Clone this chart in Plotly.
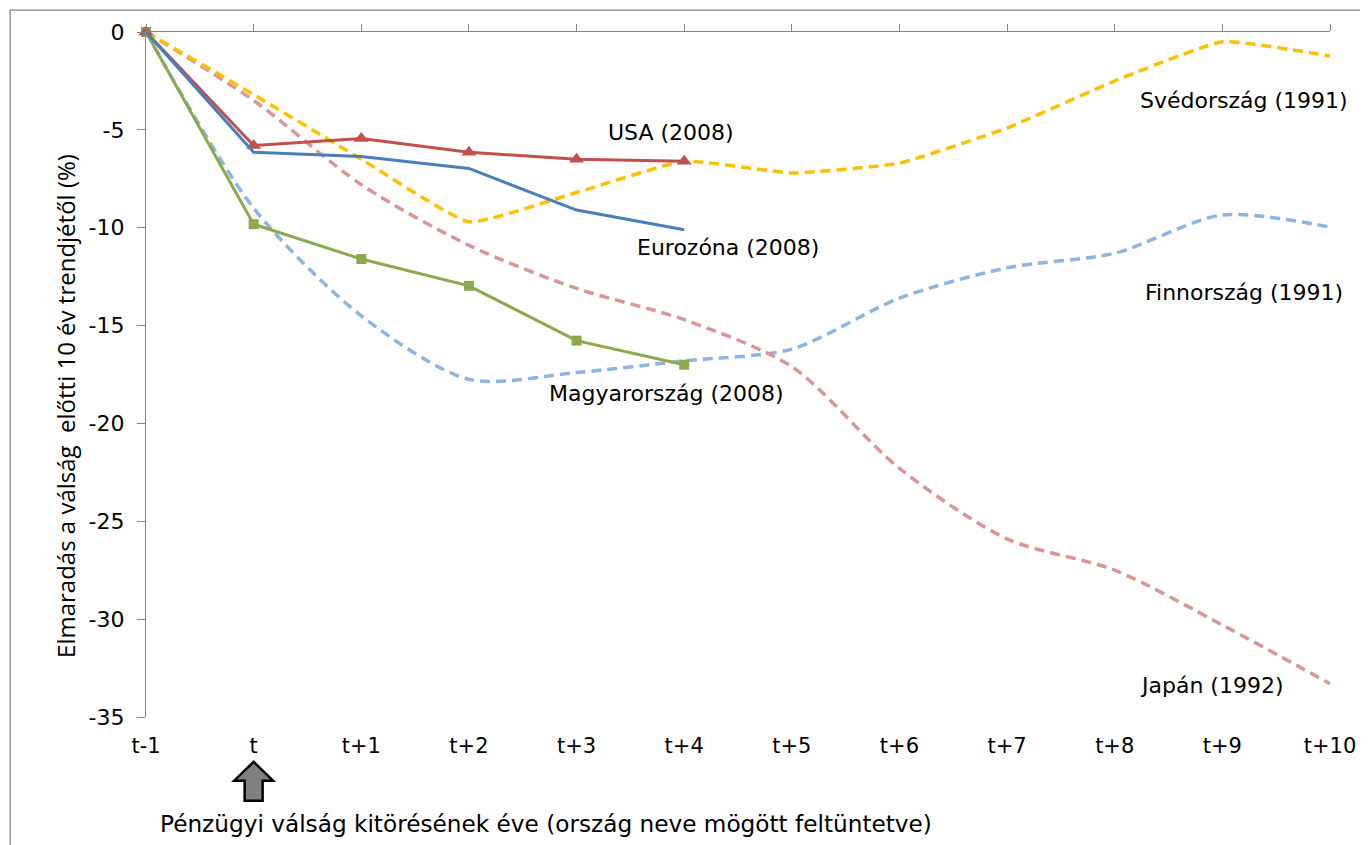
import plotly.graph_objects as go

categories = ["t-1", "t", "t+1", "t+2", "t+3", "t+4", "t+5", "t+6", "t+7", "t+8", "t+9", "t+10"]

usa = [0, -5.8, -5.44, -6.15, -6.5, -6.6]
eurozona = [0, -6.15, -6.36, -6.97, -9.1, -10.1]
magyarorszag = [0, -9.82, -11.6, -12.97, -15.77, -17.0]
svedorszag = [0, -3.2, -6.5, -9.7, -8.2, -6.6, -7.2, -6.7, -4.9, -2.5, -0.5, -1.23]
finnorszag = [0, -9.0, -14.5, -17.75, -17.4, -16.8, -16.2, -13.6, -12.05, -11.3, -9.35, -9.97]
japan = [0, -3.5, -7.8, -10.9, -13.1, -14.7, -17.1, -22.3, -25.9, -27.5, -30.3, -33.3]

y_ticks = [0, -5, -10, -15, -20, -25, -30, -35]
y_ticktext = ["0", "-5", "-10", "-15", "-20", "-25", "-30", "-35"]

labels = [
    ("USA (2008)", 4.88, -5.14),
    ("Eurozóna (2008)", 5.41, -10.99),
    ("Magyarország (2008)", 4.84, -18.46),
    ("Svédország (1991)", 10.2, -3.5),
    ("Finnország (1991)", 10.2, -13.33),
    ("Japán (1992)", 9.9, -33.37),
]

# page offset (browser body margin) is 8px
OFF = 8
W, H = 1368, 845
ML, MR, MT, MB = 146, 37, 29, 128
PW, PH = W - ML - MR, H - MT - MB

TXT = "DejaVu Sans"
fig = go.Figure()

dash = "10px,6px"
fig.add_trace(go.Scatter(x=categories, y=finnorszag, mode="lines", name="Finnország",
                         line=dict(color="#8DB4E2", width=3.5, dash=dash, shape="spline", smoothing=0.8),
                         cliponaxis=False))
fig.add_trace(go.Scatter(x=categories, y=japan, mode="lines", name="Japán",
                         line=dict(color="#DA9694", width=3.5, dash=dash, shape="spline", smoothing=0.8),
                         cliponaxis=False))
fig.add_trace(go.Scatter(x=categories, y=svedorszag, mode="lines", name="Svédország",
                         line=dict(color="#FFC000", width=3.5, dash=dash, shape="spline", smoothing=0.4),
                         cliponaxis=False))
fig.add_trace(go.Scatter(x=categories[:len(magyarorszag)], y=magyarorszag, mode="lines+markers",
                         name="Magyarország", line=dict(color="#8CA94B", width=3),
                         marker=dict(symbol="square", size=10, color="#8CA94B"), cliponaxis=False))
fig.add_trace(go.Scatter(x=categories[:len(usa)], y=usa, mode="lines+markers", name="USA",
                         line=dict(color="#C0504D", width=3),
                         marker=dict(symbol="triangle-up", size=13, color="#C0504D"), cliponaxis=False))
fig.add_trace(go.Scatter(x=categories[:len(eurozona)], y=eurozona, mode="lines", name="Eurozóna",
                         line=dict(color="#4A7EBB", width=3), cliponaxis=False))

# dummy trace for top axis
fig.add_trace(go.Scatter(x=[0, 11], y=[None, None], xaxis="x2", showlegend=False, hoverinfo="skip"))

for text, xv, yv in labels:
    fig.add_annotation(x=xv, y=yv, xref="x", yref="y", text=text, showarrow=False,
                       font=dict(family=TXT, size=22, color="#000000"))


def px(xp):
    return (xp - ML) / PW


def py(yp):
    return (H - MB - yp) / PH


fig.add_annotation(x=px(546), y=py(808), xref="paper", yref="paper", yanchor="top",
                   text="Pénzügyi válság kitörésének éve (ország neve mögött feltüntetve)",
                   showarrow=False, font=dict(family=TXT, size=23.2, color="#000000"))

# y-axis title
fig.add_annotation(x=px(47), y=py(405), xref="paper", yref="paper", textangle=-90,
                   text="Elmaradás a válság  előtti 10 év trendjétől (%)",
                   showarrow=False, font=dict(family="Open Sans", size=24, color="#000000"))

# arrow under "t"
cx = 1 / 11 * PW + ML
pts = [(cx, 762), (cx + 19.5, 781), (cx + 9, 781), (cx + 9, 801), (cx - 9, 801), (cx - 9, 781), (cx - 19.5, 781)]
path = "M " + " L ".join(f"{px(a):.5f},{py(b):.5f}" for a, b in pts) + " Z"
fig.add_shape(type="path", path=path, xref="paper", yref="paper",
              fillcolor="#808080", line=dict(color="#000000", width=2.5))

# outer border
fig.add_shape(type="rect", xref="paper", yref="paper", x0=px(10), y0=py(H + 20), x1=px(W + 20), y1=py(7),
              line=dict(color="#868686", width=1.3), fillcolor="rgba(0,0,0,0)")

fig.update_layout(
    width=W - OFF, height=H - OFF,
    margin=dict(l=ML - OFF, r=MR, t=MT - OFF, b=MB),
    plot_bgcolor="white", paper_bgcolor="white",
    showlegend=False,
    xaxis=dict(type="category", categoryarray=categories, range=[0, 11], showline=False, ticks="",
               showgrid=False, zeroline=False, tickfont=dict(family=TXT, size=21, color="#000000"),
               ticklabelstandoff=14),
    xaxis2=dict(overlaying="x", side="top", anchor="y", range=[0, 11], tickvals=list(range(12)),
                showticklabels=False, ticks="outside", ticklen=7, tickcolor="#868686", tickwidth=1.3,
                showline=True, linecolor="#868686", linewidth=1.3, showgrid=False, zeroline=False),
    yaxis=dict(range=[-35, 0], tickvals=y_ticks, ticktext=y_ticktext, showline=True, linecolor="#868686",
               linewidth=1.3, ticks="outside", ticklen=8, tickcolor="#868686", tickwidth=1.3,
               showgrid=False, zeroline=False, tickfont=dict(family=TXT, size=22, color="#000000"),
               ticklabelstandoff=8),
)

fig.write_html("out.html")
